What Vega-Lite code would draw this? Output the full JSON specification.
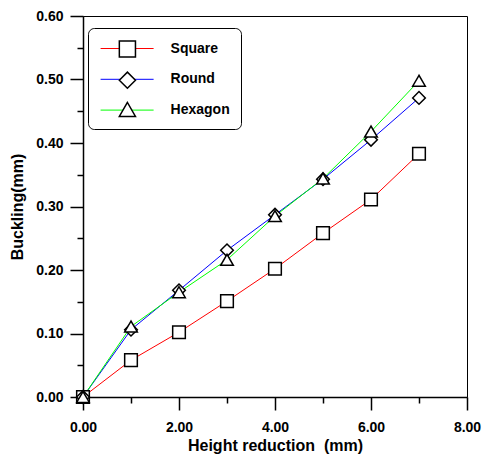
{
  "$schema": "https://vega.github.io/schema/vega-lite/v6.json",
  "width": 384,
  "height": 381,
  "autosize": {"type": "none"},
  "padding": {"left": 83, "top": 16, "right": 17, "bottom": 61},
  "background": "white",
  "config": {
    "view": {"stroke": "black", "strokeWidth": 1},
    "font": "Liberation Sans",
    "axis": {
      "domainColor": "black", "domainWidth": 1.5, "tickColor": "black", "tickWidth": 1.5,
      "labelFont": "Liberation Sans", "labelFontSize": 14, "labelFontWeight": "bold", "labelColor": "black",
      "titleFont": "Liberation Sans", "titleFontSize": 16, "titleFontWeight": "bold", "titleColor": "black",
      "grid": false, "labelFlush": false
    }
  },
  "data": {"values": [
    {"x": 0, "y": 0, "s": "Square", "m": "square"}, {"x": 1, "y": 0.058, "s": "Square", "m": "square"}, {"x": 2, "y": 0.102, "s": "Square", "m": "square"}, {"x": 3, "y": 0.151, "s": "Square", "m": "square"},
    {"x": 4, "y": 0.202, "s": "Square", "m": "square"}, {"x": 5, "y": 0.258, "s": "Square", "m": "square"}, {"x": 6, "y": 0.311, "s": "Square", "m": "square"}, {"x": 7, "y": 0.383, "s": "Square", "m": "square"},
    {"x": 0, "y": 0, "s": "Round", "m": "diamond"}, {"x": 1, "y": 0.106, "s": "Round", "m": "diamond"}, {"x": 2, "y": 0.168, "s": "Round", "m": "diamond"}, {"x": 3, "y": 0.231, "s": "Round", "m": "diamond"},
    {"x": 4, "y": 0.287, "s": "Round", "m": "diamond"}, {"x": 5, "y": 0.343, "s": "Round", "m": "diamond"}, {"x": 6, "y": 0.405, "s": "Round", "m": "diamond"}, {"x": 7, "y": 0.471, "s": "Round", "m": "diamond"},
    {"x": 0, "y": 0, "s": "Hexagon", "m": "triangle"}, {"x": 1, "y": 0.111, "s": "Hexagon", "m": "triangle"}, {"x": 2, "y": 0.165, "s": "Hexagon", "m": "triangle"}, {"x": 3, "y": 0.216, "s": "Hexagon", "m": "triangle"},
    {"x": 4, "y": 0.285, "s": "Hexagon", "m": "triangle"}, {"x": 5, "y": 0.344, "s": "Hexagon", "m": "triangle"}, {"x": 6, "y": 0.418, "s": "Hexagon", "m": "triangle"}, {"x": 7, "y": 0.498, "s": "Hexagon", "m": "triangle"}
  ]},
  "encoding": {
    "x": {"field": "x", "type": "quantitative", "scale": {"domain": [0, 8], "nice": false},
      "axis": {"title": "Height reduction\u00a0\u00a0(mm)", "values": [0,1,2,3,4,5,6,7,8],
        "labelExpr": "datum.value % 2 === 0 ? format(datum.value, '.2f') : ''",
        "tickSize": {"condition": {"test": "datum.value % 2 === 0", "value": 13}, "value": 6},
        "labelPadding": 10, "titlePadding": 3}},
    "y": {"field": "y", "type": "quantitative", "scale": {"domain": [0, 0.6], "nice": false},
      "axis": {"title": "Buckling(mm)", "values": [0,0.05,0.1,0.15,0.2,0.25,0.3,0.35,0.4,0.45,0.5,0.55,0.6],
        "labelExpr": "round(datum.value*100) % 10 === 0 ? format(datum.value, '.2f') : ''",
        "tickSize": {"condition": {"test": "round(datum.value*100) % 10 === 0", "value": 13}, "value": 6},
        "labelPadding": 7, "titlePadding": 10}}
  },
  "layer": [
    {
      "mark": {"type": "line", "strokeWidth": 1},
      "encoding": {
        "color": {"field": "s", "type": "nominal",
          "scale": {"domain": ["Square", "Round", "Hexagon"], "range": ["#ff0000", "#0000ff", "#00ff00"]},
          "legend": {"title": null, "orient": "none", "legendX": 5, "legendY": 12, "zindex": 1,
            "symbolType": "M-3,0H3", "symbolSize": 312, "symbolOffset": 18.6,
            "symbolStrokeWidth": 1, "labelFont": "Liberation Sans", "labelFontSize": 14, "labelFontWeight": "bold", "labelColor": "black",
            "labelOffset": 34, "padding": 11, "rowPadding": 13.8, "strokeColor": "black", "cornerRadius": 6, "fillColor": "white"}}
      }
    },
    {
      "mark": {"type": "point", "filled": false, "fill": "white", "fillOpacity": 1, "stroke": "black", "strokeWidth": 1.5, "size": 160, "opacity": 1},
      "encoding": {
        "shape": {"field": "m", "type": "nominal",
          "scale": {"domain": ["square", "diamond", "triangle"], "range": ["square", "diamond", "triangle-up"]},
          "legend": {"title": null, "orient": "none", "legendX": 23.4, "legendY": 12, "zindex": 2, "symbolSize": 260,
            "labelExpr": "''", "padding": 12, "rowPadding": 7.2, "labelFontSize": 14,
            "encode": {"symbols": {"update": {"stroke": {"value": "black"}, "fill": {"value": "white"}, "fillOpacity": {"value": 1}, "strokeWidth": {"value": 2}, "opacity": {"value": 1}, "strokeOpacity": {"value": 1}}}}}}
      }
    }
  ]
}
